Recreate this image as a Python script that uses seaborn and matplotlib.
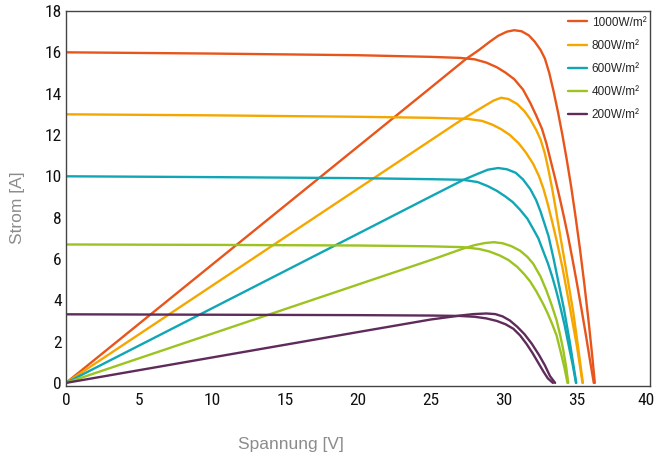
import matplotlib
matplotlib.use("Agg")
import matplotlib.pyplot as plt
from matplotlib import font_manager as fm
from matplotlib.transforms import ScaledTranslation
import seaborn as sns

# irradiance levels and colours
labels = ["1000W/m²", "800W/m²", "600W/m²", "400W/m²", "200W/m²"]
colors = ["#e8551b", "#f5a700", "#10a6b5", "#9cc320", "#5e2b5b"]

# I-V curves (voltage [V], current [A])
iv_v_1000 = [0, 10, 20, 25, 27.0, 28.0, 28.8, 29.5, 30.1, 30.7, 31.3, 31.8, 32.2, 32.6, 32.9, 33.2, 33.5, 33.8, 34.1, 34.4, 34.7, 35.0, 35.3, 35.6, 35.9, 36.15]
iv_i_1000 = [16.0, 15.94, 15.86, 15.78, 15.73, 15.66, 15.5, 15.28, 15.02, 14.7, 14.2, 13.55, 12.95, 12.3, 11.6, 10.75, 9.9, 9.0, 8.05, 7.05, 5.95, 4.8, 3.6, 2.35, 1.05, 0]
iv_v_800 = [0, 10, 20, 25, 27.5, 28.5, 29.2, 29.8, 30.4, 31.0, 31.5, 32.0, 32.4, 32.7, 33.0, 33.3, 33.6, 34.0, 34.5, 35.0, 35.38]
iv_i_800 = [13.0, 12.95, 12.88, 12.83, 12.78, 12.68, 12.5, 12.28, 12.0, 11.6, 11.15, 10.6, 10.0, 9.4, 8.65, 7.8, 6.9, 5.6, 3.7, 1.75, 0]
iv_v_600 = [0, 10, 20, 25, 27.2, 28.2, 28.9, 29.5, 30.1, 30.6, 31.1, 31.6, 32.0, 32.35, 32.7, 33.0, 33.3, 33.6, 33.85, 34.15, 34.45, 34.7, 34.93]
iv_i_600 = [10.0, 9.96, 9.91, 9.86, 9.83, 9.72, 9.52, 9.3, 9.02, 8.75, 8.38, 7.95, 7.45, 7.0, 6.35, 5.8, 5.15, 4.4, 3.7, 2.8, 1.75, 0.9, 0]
iv_v_400 = [0, 10, 20, 25, 27.2, 28.3, 29.0, 29.7, 30.3, 30.9, 31.4, 31.8, 32.2, 32.7, 33.0, 33.3, 33.6, 33.9, 34.15, 34.35]
iv_i_400 = [6.7, 6.68, 6.65, 6.61, 6.57, 6.48, 6.36, 6.17, 5.95, 5.62, 5.25, 4.9, 4.45, 3.8, 3.35, 2.85, 2.3, 1.45, 0.7, 0]
iv_v_200 = [0, 10, 20, 25, 27.0, 28.0, 28.8, 29.5, 30.1, 30.64, 31.1, 31.55, 31.95, 32.35, 32.7, 33.0, 33.35]
iv_i_200 = [3.32, 3.3, 3.28, 3.26, 3.24, 3.2, 3.12, 3.0, 2.84, 2.62, 2.3, 1.88, 1.45, 0.97, 0.55, 0.22, 0]

# power curves (scaled onto the current axis)
p_v_1000 = [0, 10, 20, 25, 27.4, 28.3, 29.0, 29.6, 30.2, 30.7, 31.2, 31.7, 32.1, 32.5, 32.8, 33.1, 33.4, 33.7, 34.0, 34.3, 34.6, 34.9, 35.2, 35.5, 35.8, 36.05, 36.22]
p_p_1000 = [0, 5.72, 11.44, 14.3, 15.68, 16.12, 16.5, 16.8, 17.0, 17.07, 17.02, 16.82, 16.52, 16.12, 15.7, 15.0, 14.1, 13.1, 12.0, 10.8, 9.5, 8.05, 6.5, 4.8, 2.95, 1.25, 0]
p_v_800 = [0, 10, 20, 25, 27.0, 28.0, 28.7, 29.3, 29.8, 30.3, 30.9, 31.4, 31.8, 32.2, 32.5, 32.8, 33.05, 33.3, 33.5, 33.85, 34.2, 34.75, 35.1, 35.4]
p_p_800 = [0, 4.7, 9.4, 11.75, 12.69, 13.12, 13.42, 13.67, 13.8, 13.74, 13.5, 13.15, 12.76, 12.25, 11.79, 11.1, 10.3, 9.4, 8.6, 7.13, 5.7, 3.4, 1.6, 0]
p_v_600 = [0, 10, 20, 25, 27.2, 28.2, 28.9, 29.6, 30.2, 30.8, 31.3, 31.8, 32.2, 32.5, 32.8, 33.05, 33.4, 33.75, 34.1, 34.5, 34.95]
p_p_600 = [0, 3.61, 7.22, 9.03, 9.82, 10.12, 10.32, 10.4, 10.34, 10.17, 9.85, 9.38, 8.85, 8.3, 7.65, 7.1, 6.0, 4.8, 3.6, 2.0, 0]
p_v_400 = [0, 10, 20, 25, 27.2, 28.0, 28.7, 29.3, 29.9, 30.5, 31.1, 31.6, 32.0, 32.5, 32.9, 33.25, 33.6, 33.85, 34.06, 34.25, 34.4]
p_p_400 = [0, 2.38, 4.76, 5.95, 6.5, 6.67, 6.77, 6.81, 6.76, 6.62, 6.4, 6.1, 5.77, 5.15, 4.48, 3.8, 3.04, 2.3, 1.59, 0.8, 0]
p_v_200 = [0, 10, 20, 25, 27.0, 27.9, 28.8, 29.4, 29.9, 30.4, 30.9, 31.4, 31.9, 32.4, 32.8, 33.15, 33.5]
p_p_200 = [0, 1.23, 2.46, 3.07, 3.26, 3.33, 3.36, 3.33, 3.22, 3.02, 2.72, 2.36, 1.9, 1.35, 0.85, 0.33, 0]

iv_curves = [(iv_v_1000, iv_i_1000), (iv_v_800, iv_i_800), (iv_v_600, iv_i_600),
             (iv_v_400, iv_i_400), (iv_v_200, iv_i_200)]
p_curves = [(p_v_1000, p_p_1000), (p_v_800, p_p_800), (p_v_600, p_p_600),
            (p_v_400, p_p_400), (p_v_200, p_p_200)]

x_ticks = [0, 5, 10, 15, 20, 25, 30, 35, 40]
y_ticks = [0, 2, 4, 6, 8, 10, 12, 14, 16, 18]

sns.set_style("white")
plt.rcParams['font.family'] = ['Liberation Sans', 'DejaVu Sans']

# narrow face for the tick numbers, if one is installed
fonts = fm.fontManager.ttflist
names = {f.name for f in fonts}
tick_kw = dict(family=['Liberation Sans', 'DejaVu Sans'], size=11.5)
if 'Liberation Sans Narrow' in names:
    tick_kw = dict(family=['Liberation Sans Narrow'], size=12.5)
elif 'Roboto Condensed' in names:
    tick_kw = dict(family=['Roboto Condensed'], size=12.5)
elif any(f.name == 'DejaVu Sans' and f.stretch == 'condensed' for f in fonts):
    tick_kw = dict(family=['DejaVu Sans'], size=11.5, stretch='condensed')

fig = plt.figure(figsize=(6.56, 4.58), dpi=100)
ax = fig.add_axes([66 / 656, 1 - 386 / 458, 584 / 656, 375 / 458])

for (v, i), (pv, pp), col, lab in zip(iv_curves, p_curves, colors, labels):
    sns.lineplot(x=v, y=i, color=col, lw=1.7, sort=False, estimator=None, ax=ax,
                 label=lab, solid_joinstyle='round')
    sns.lineplot(x=pv, y=pp, color=col, lw=1.7, sort=False, estimator=None, ax=ax,
                 solid_joinstyle='round')

ax.set_xlim(0, 40)
ax.set_ylim(-0.15, 18)
ax.set_xticks(x_ticks)
ax.set_yticks(y_ticks)
ax.set_xticklabels([str(t) for t in x_ticks], color='#111111', **tick_kw)
ax.set_yticklabels([str(t) for t in y_ticks], color='#111111', **tick_kw)
ax.tick_params(axis='both', direction='in', length=6, width=1, color='#333333')
ax.tick_params(axis='y', pad=3)
ax.tick_params(axis='x', pad=5)

# the last x label sits right at the figure edge, pull it in a little
last = ax.get_xticklabels()[-1]
last.set_transform(last.get_transform() + ScaledTranslation(-3 / 72, 0, fig.dpi_scale_trans))

for s in ax.spines.values():
    s.set_visible(True)
    s.set_color('#444444')
    s.set_linewidth(1)

ax.set_ylabel("Strom [A]", fontsize=12.5, color='#8c8c8c', fontweight='light')
ax.yaxis.set_label_coords(-0.07, 0.475)
ax.set_xlabel("Spannung [V]", fontsize=12.5, color='#8c8c8c', fontweight='light')
ax.xaxis.set_label_coords(0.385, -0.157)
ax.xaxis.label.set_va('center')

leg = ax.legend(loc='upper left', bbox_to_anchor=(0.859, 0.985), frameon=False,
                fontsize=8.5, handlelength=1.6, handletextpad=0.45,
                labelspacing=0.95, borderaxespad=0, borderpad=0)
for line in leg.get_lines():
    line.set_linewidth(1.7)

fig.savefig("out.png", dpi=100)
